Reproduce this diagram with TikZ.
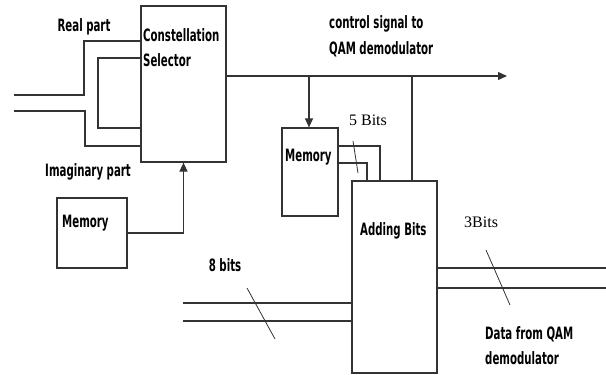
\documentclass[tikz,border=0pt]{standalone}
\usepackage{fontspec}
\newfontfamily\condfont[FakeStretch=0.6]{DejaVu Sans Bold}
\newfontfamily\serfont{Liberation Serif}
\usetikzlibrary{arrows.meta}
\tikzset{
  wire/.style={line width=1.2pt, draw=black!80},
  box/.style={draw=black!80, line width=1.2pt, fill=white, inner sep=0pt},
  arr/.style={wire, -{Triangle[length=9pt,width=8pt]}},
  slash/.style={line width=0.8pt, draw=black!80},
  lbl/.style={font=\condfont\fontsize{17}{19}\selectfont, inner sep=0pt, text=black},
  slbl/.style={font=\serfont\fontsize{16}{18}\selectfont, inner sep=0pt, text=black},
}
\begin{document}
\begin{tikzpicture}[x=1pt,y=-1pt]
\useasboundingbox (0,0) rectangle (606,375);
% boxes
\node[box, minimum width=85pt, minimum height=156pt] (cs) at (183.5,84) {};
\node[box, minimum width=70pt, minimum height=70pt] (mem1) at (92,233) {};
\node[box, minimum width=56pt, minimum height=88pt] (mem2) at (310,172) {};
\node[box, minimum width=85pt, minimum height=192pt] (add) at (394.5,277) {};
% box texts
\node[lbl, anchor=west] (cst1) at (143,35) {Constellation};
\node[lbl, anchor=west] (cst2) at (143,60) {Selector};
\node[lbl, anchor=west] (m1t) at (62,223) {Memory};
\node[lbl, anchor=west] (m2t) at (285,157) {Memory};
\node[lbl, anchor=west] (addt) at (360,231) {Adding Bits};
% labels
\node[lbl] (real) at (84,27) {Real part};
\node[lbl] (imag) at (88,172) {Imaginary part};
\node[lbl, anchor=west] (ctrl1) at (329,24) {control signal to};
\node[lbl, anchor=west] (ctrl2) at (329,49) {QAM demodulator};
\node[slbl] (five) at (368,120) {5 Bits};
\node[lbl] (eight) at (225,265) {8 bits};
\node[slbl, anchor=west] (three) at (464,222) {3Bits};
\node[lbl, anchor=west] (data1) at (485,334) {Data from QAM};
\node[lbl, anchor=west] (data2) at (485,358) {demodulator};
% free ends
\coordinate (in1) at (14,95);
\coordinate (in2) at (14,111);
\coordinate (outend) at (507,76);
\coordinate (br1) at (309,76);
\coordinate (br2) at (412,76);
\coordinate (e1) at (183,303);
\coordinate (e2) at (183,321);
\coordinate (o1) at (606,268);
\coordinate (o2) at (606,288);
% inputs to constellation selector
\draw[wire] (in1) -- (84,95) -- (84,41) -- (cs.west |- 0,41);
\draw[wire] (in2) -- (85,111) -- (85,146) -- (cs.west |- 0,146);
\draw[wire] (cs.west |- 0,58) -- (98,58) -- (98,128) -- (cs.west |- 0,128);
% memory1 to constellation selector
\draw[arr] (mem1.east |- 0,233) -| (cs.south);
% output control signal
\draw[arr] (cs.east |- 0,76) -- (outend);
\draw[arr] (br1) -- (mem2.north -| br1);
\draw[wire] (br2) -- (add.north -| br2);
% memory2 to adding bits (5 bits)
\draw[wire] (mem2.east |- 0,146) -| (add.north -| 380,0);
\draw[wire] (mem2.east |- 0,163) -| (add.north -| 367,0);
\draw[slash] (353,141) -- (358,173);
% 8 bits
\draw[wire] (e1) -- (add.west |- e1);
\draw[wire] (e2) -- (add.west |- e2);
\draw[slash] (247,288) -- (275,339);
% 3 bits out
\draw[wire] (add.east |- o1) -- (o1);
\draw[wire] (add.east |- o2) -- (o2);
\draw[slash] (486,250) -- (510,305);
\end{tikzpicture}
\end{document}
